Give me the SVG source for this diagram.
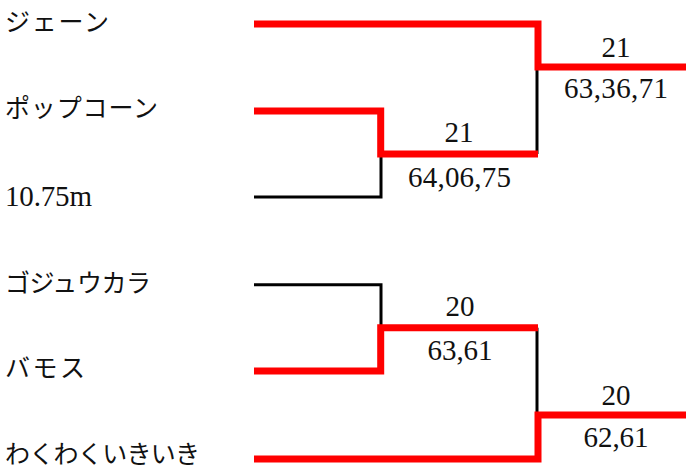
<svg xmlns="http://www.w3.org/2000/svg" width="686" height="472" viewBox="0 0 686 472">
  <style>
    .jp { font-family: "Noto Sans CJK JP", "Noto Sans", sans-serif; font-size: 25px; fill: #111; }
    .num { font-family: "Liberation Serif", "Noto Sans CJK JP", serif; font-size: 29px; fill: #111; }
    .sc { text-anchor: middle; }
    .win { fill: none; stroke: #ff0000; stroke-width: 7; stroke-linejoin: miter; stroke-linecap: butt; }
    .lose { fill: none; stroke: #000; stroke-width: 3; stroke-linejoin: miter; stroke-linecap: butt; }
  </style>
  <rect width="686" height="472" fill="#fff"/>

  <g id="connectors">
    <path class="lose" d="M254,197 H381 V154"/>
    <path class="lose" d="M537,154 V67"/>
    <path class="lose" d="M254,284.7 H381 V327.7"/>
    <path class="lose" d="M537,327.7 V415"/>
    <path class="win" d="M254,24 H538 V67 H686"/>
    <path class="win" d="M254,111 H380.7 V154 H538"/>
    <path class="win" d="M254,371 H380.7 V327.7 H538"/>
    <path class="win" d="M254,459 H538 V415 H686"/>
  </g>

  <g id="team-jane"><text class="jp" x="5" y="31" textLength="104">ジェーン</text></g>
  <g id="team-popcorn"><text class="jp" x="5" y="117" textLength="153">ポップコーン</text></g>
  <g id="team-1075m"><text class="num" x="5" y="206" textLength="87">10.75m</text></g>
  <g id="team-gojukara"><text class="jp" x="5" y="292" textLength="146">ゴジュウカラ</text></g>
  <g id="team-bamos"><text class="jp" x="5" y="377" textLength="80">バモス</text></g>
  <g id="team-wakuwaku"><text class="jp" x="5" y="463" textLength="195">わくわくいきいき</text></g>

  <g id="match-a1">
    <text class="num sc" x="459" y="142">21</text>
    <text class="num sc" x="459.5" y="187" textLength="103">64,06,75</text>
  </g>
  <g id="match-a2">
    <text class="num sc" x="616" y="56.5">21</text>
    <text class="num sc" x="616" y="98" textLength="104">63,36,71</text>
  </g>
  <g id="match-b1">
    <text class="num sc" x="460" y="316">20</text>
    <text class="num sc" x="460" y="360" textLength="65">63,61</text>
  </g>
  <g id="match-b2">
    <text class="num sc" x="616" y="405">20</text>
    <text class="num sc" x="616" y="447" textLength="65">62,61</text>
  </g>
</svg>
